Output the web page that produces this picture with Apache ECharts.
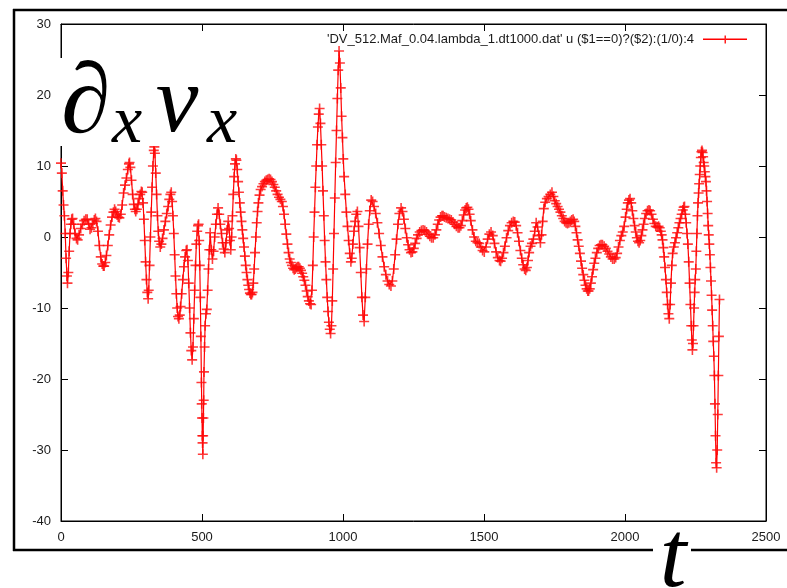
<!DOCTYPE html>
<html>
<head>
<meta charset="utf-8">
<script src="https://cdn.jsdelivr.net/npm/echarts/dist/echarts.min.js"></script>
<style>
html,body{margin:0;padding:0;background:#fff;}
#c{width:787px;height:588px;}
</style>
</head>
<body>
<div id="c"></div>
<script>
// ---- tick labels / texts ----
const xTicks = [0, 500, 1000, 1500, 2000, 2500];
const yTicks = [-40, -30, -20, -10, 0, 10, 20, 30];
const legendLabel = "'DV_512.Maf_0.04.lambda_1.dt1000.dat' u ($1==0)?($2):(1/0):4";
const xAxisName = 't';

// ---- data: [t, d_x v_x] ----
const seg0 = [[0,10.4],[3,9],[6,6.5],[9,4.5],[12,3],[15,0.5],[18,-3],[21,-5.5],[23,-6.5],[26,-5],[29,-2],[32,0.5],[35,1.8],[38,2.5],[41,2.6],[45,1.8],[50,0.5],[55,-0.2],[59,-0.4],[64,0.3],[70,1.2],[76,1.8],[82,2.3],[88,2.5],[93,2.5],[98,1.8],[103,1.1],[108,1.3],[113,1.9],[118,2.4],[122,2.6],[126,2.2],[131,0.8],[136,-1.2],[141,-2.8],[146,-3.8],[150,-4.1],[153,-4.1],[157,-3.6],[161,-2.6],[166,-1.2],[171,0.3],[176,1.7],[181,2.8],[186,3.5],[190,3.9],[194,3.6],[199,3.1],[203,2.8],[207,2.7],[212,3.2],[217,4.5],[222,6.2],[227,7.3],[232,8.3],[237,9.5],[241,10.3],[243,10.5],[246,9.8],[250,8],[254,6],[258,4.6],[262,3.9],[265,3.6],[269,3.9],[273,4.6],[277,5.4],[281,6],[285,6.4],[288,6.3],[291,4.8],[294,2.5],[297,-0.5],[300,-3.5],[303,-6],[306,-7.8],[309,-8.7],[311,-7.5],[314,-4],[317,0],[320,3.5],[323,7],[326,10],[329,12.2],[331,12.7],[333,11.8],[336,9],[339,6],[342,3],[345,0.8],[348,-0.6],[352,-1.4],[356,-1],[360,-0.2],[365,1],[370,2.2],[375,3.3],[380,4.3],[384,5.3],[388,6],[391,6.3],[394,5],[397,3],[400,0.5],[403,-2.5],[406,-5.5],[409,-8],[412,-10],[415,-11.2],[418,-11.5],[421,-11],[424,-9.8],[428,-8],[432,-6],[436,-4.2],[440,-2.8],[444,-1.9],[447,-1.8],[450,-3.3],[453,-6.5],[456,-10],[459,-13.5],[462,-16],[465,-17.3],[468,-15.5],[471,-11.5],[474,-7.5],[477,-4],[480,-1],[483,0.8],[486,1.6],[488,1.8],[490,-0.5],[492,-4],[494,-8.5],[496,-14],[498,-20.5]];
const seg1 = [[499,-23.5],[500,-25.5],[501,-28],[502,-29],[503,-30.6],[504,-28],[505,-25.5],[506,-23],[507,-19],[509,-15.5],[511,-12.5],[514,-10.8],[517,-10.2],[520,-7.5],[523,-4.5],[526,-1.8],[529,0.6],[533,-1.8],[537,-3.1],[541,-2],[545,0],[549,1.8],[553,3.2],[557,4.1],[561,3.2],[565,1.8],[569,0.5],[573,-0.8],[577,-1.7],[581,-2.2],[585,-0.8],[589,1],[593,2.2],[596,1.2],[599,-0.5],[602,-1.8],[605,0],[608,3],[611,6],[614,8.5],[617,10.3],[620,11],[622,10.8],[625,9.5],[628,7.8],[631,6.3],[634,4.8],[637,3.5],[640,2.2],[643,1],[646,-0.2],[649,-1.4],[652,-2.7],[655,-4],[658,-5],[661,-6],[664,-6.8],[667,-7.4],[670,-7.9],[673,-8.1],[676,-8.1],[679,-7.8],[682,-6.5],[685,-4.5],[688,-2.2],[691,0],[694,2],[697,3.6],[700,4.8],[704,5.9],[708,6.7],[713,7.1],[718,7.5],[723,7.8],[728,8],[733,8.1],[738,8.2],[743,8.1],[748,7.8],[753,7.4],[758,7],[763,6.5],[768,6],[773,5.6],[778,5.3],[783,5],[787,4.3],[791,3.2],[795,1.8],[799,0.4],[803,-1],[807,-2.2],[811,-3.1],[815,-3.6],[819,-4],[823,-4.4],[827,-4.6],[831,-4.5],[835,-4.3],[839,-4.2],[843,-4.2],[847,-4.4],[851,-4.7],[855,-5.1],[859,-5.6],[863,-6.1],[867,-6.8],[871,-7.6],[875,-8.4],[879,-9],[883,-9.4],[887,-9.5],[890,-7.5],[893,-4],[896,0],[899,3.5],[902,7],[905,10],[908,13],[911,15.5],[914,17.3],[917,18.1],[920,16],[923,13],[926,10],[929,6.5],[932,3],[935,-0.5],[938,-3.5],[941,-6],[944,-8.5],[947,-10.5],[950,-12],[953,-13],[956,-13.6],[959,-12.5],[962,-9],[965,-4.5],[968,0.5],[971,5.5],[974,10.5],[977,15],[980,19.5],[983,23.5],[986,26.2],[989,24.5],[992,21],[995,17],[998,14]];
const seg2 = [[1001,11],[1004,8.5],[1008,6],[1012,3.5],[1016,1.5],[1020,-0.5],[1024,-2.3],[1028,-3.5],[1031,-3],[1035,-1],[1039,0.8],[1043,2.2],[1047,3.2],[1051,3.6],[1055,1.5],[1059,-1.5],[1063,-5],[1067,-8.5],[1071,-11],[1075,-11.9],[1079,-8.5],[1083,-4.5],[1087,-1],[1091,1.8],[1095,3.7],[1100,5.2],[1105,5],[1110,4.3],[1116,3.3],[1122,2],[1128,0.5],[1134,-1.2],[1140,-2.8],[1146,-4.2],[1152,-5.3],[1158,-6.2],[1164,-6.7],[1170,-6.9],[1175,-6.2],[1180,-4.5],[1185,-2.5],[1190,-0.3],[1195,1.8],[1200,3.3],[1206,4.1],[1211,3.6],[1216,2.5],[1221,1.2],[1226,-0.1],[1231,-1.1],[1236,-1.8],[1241,-2.2],[1246,-2.1],[1251,-1.6],[1256,-0.9],[1261,-0.2],[1266,0.3],[1272,0.7],[1278,0.9],[1284,1],[1290,0.9],[1296,0.7],[1302,0.4],[1308,0.1],[1314,-0.1],[1320,-0.1],[1326,0.3],[1331,1],[1336,1.8],[1341,2.4],[1346,2.8],[1351,3],[1355,3],[1360,2.8],[1366,2.7],[1372,2.6],[1378,2.5],[1384,2.4],[1390,2.1],[1396,1.8],[1402,1.5],[1408,1.3],[1413,1.3],[1418,1.6],[1423,2.3],[1428,3.1],[1433,3.8],[1437,4.1],[1441,4.2],[1445,3.9],[1449,3.2],[1453,2.3],[1459,1],[1465,0],[1471,-0.6],[1477,-0.8],[1483,-0.9],[1489,-1.4],[1495,-1.9],[1501,-2.1]];
const seg3 = [[1507,-1.4],[1513,-0.3],[1519,0.4],[1525,0.7],[1531,0.2],[1537,-0.9],[1543,-2.1],[1549,-2.9],[1555,-3.3],[1559,-3.4],[1564,-3],[1569,-2.2],[1574,-1.3],[1580,-0.1],[1586,0.9],[1592,1.6],[1598,2],[1604,2.2],[1609,2.1],[1614,1.6],[1619,0.6],[1624,-0.6],[1629,-1.9],[1634,-3],[1639,-3.9],[1644,-4.5],[1648,-4.7],[1652,-4.3],[1656,-3.3],[1660,-2.2],[1665,-1.3],[1670,-0.9],[1675,-0.3],[1680,0.8],[1685,2],[1690,1.4],[1695,0.2],[1700,-0.8],[1704,0.3],[1708,2.2],[1712,4],[1717,4.9],[1723,5.4],[1729,5.7],[1735,6],[1741,6.3],[1746,5.7],[1751,5.1],[1756,4.7],[1761,4.3],[1766,3.9],[1771,3.5],[1776,3],[1781,2.6],[1786,2.2],[1791,2],[1796,1.9],[1801,2],[1806,2.2],[1811,2.4],[1816,2.5],[1820,2.2],[1824,1.5],[1828,0.6],[1832,-0.4],[1836,-1.3],[1840,-2.3],[1844,-3.4],[1848,-4.4],[1852,-5.3],[1856,-6.1],[1860,-6.8],[1864,-7.3],[1868,-7.6],[1871,-7.6],[1875,-7.3],[1879,-6.5],[1883,-5.6],[1887,-4.6],[1891,-3.7],[1895,-3],[1900,-2.2],[1905,-1.6],[1910,-1.2],[1915,-1.1],[1920,-1.1],[1926,-1.3],[1932,-1.6],[1938,-2],[1944,-2.4],[1950,-2.8],[1956,-3.1],[1962,-3.1],[1967,-2.9],[1972,-2.3],[1977,-1.4],[1982,-0.5],[1987,0.2],[1992,0.7],[1997,1.5]];
const seg4 = [[2002,2.8],[2006,3.9],[2010,4.8],[2014,5.2],[2018,5.4],[2022,4.8],[2026,3.7],[2030,2.6],[2034,1.6],[2038,0.7],[2042,-0.1],[2046,-0.6],[2050,-0.8],[2054,-0.5],[2058,0.2],[2062,1],[2066,1.8],[2070,2.6],[2075,3.3],[2080,3.7],[2085,3.8],[2089,3.7],[2094,3.2],[2099,2.5],[2104,1.9],[2109,1.5],[2114,1.4],[2119,1.5],[2123,1.3],[2127,0.8],[2130,0.3],[2133,-0.4],[2136,-1.5],[2139,-2.8],[2142,-4.3],[2145,-6],[2148,-7.8],[2151,-9.5],[2154,-10.8],[2157,-11.5],[2160,-9.5],[2163,-6.5],[2166,-4],[2169,-2.3],[2173,-1.4],[2177,-0.8],[2181,-0.1],[2185,0.6],[2189,1.3],[2193,2],[2197,2.6],[2201,3.2],[2205,3.8],[2208,4.2],[2211,4.3],[2214,3.2],[2217,2],[2220,0.5],[2223,-1],[2226,-3.5],[2229,-6.5],[2232,-9.5],[2235,-12.5],[2237,-14.5],[2239,-15.9],[2241,-15],[2243,-12.5],[2245,-10],[2247,-7.8],[2249,-6],[2251,-4.5],[2253,-2],[2255,0.5],[2257,3],[2259,4.8],[2261,6.2],[2263,7.5],[2265,8.8],[2267,10],[2269,11.2],[2271,12],[2273,12.2],[2275,11.9],[2277,11.3],[2279,10.5],[2281,10],[2283,9.2],[2285,8.5],[2287,7.8],[2289,6.5],[2291,5],[2293,3.3],[2295,1.6],[2297,0.3],[2299,-1],[2301,-2.5],[2303,-4.3],[2305,-6.2],[2307,-8.2],[2309,-10.3],[2311,-12.5],[2313,-14.7],[2315,-16.8],[2317,-19.5],[2319,-23.5],[2321,-28],[2323,-31.8],[2325,-32.5],[2327,-30],[2329,-25],[2331,-19.5],[2333,-14],[2335,-8.8]];

const dxvxData = seg0.concat(seg1, seg2, seg3, seg4);

// "+" marker, arm thickness ~1.6px at symbolSize 10
const plusPath = 'path://M4.2,0h1.6v4.2h4.2v1.6h-4.2v4.2h-1.6v-4.2h-4.2v-1.6h4.2z';
const labelFont = '"Liberation Sans", Arial, sans-serif';
const mathFont = '"Liberation Serif", "DejaVu Serif", serif';

const chart = echarts.init(document.getElementById('c'), null, {renderer: 'canvas'});

function axisCommon(showLabel) {
  return {
    axisLine: {show: true, onZero: false, lineStyle: {color: '#000', width: 1}},
    axisTick: {show: true, inside: true, length: 7, lineStyle: {color: '#000', width: 1}},
    axisLabel: {show: showLabel, color: '#1a1a1a', fontSize: 13, fontFamily: labelFont, margin: 10,
                showMinLabel: true, showMaxLabel: true, formatter: function (v) { return String(v); }},
    splitLine: {show: false}
  };
}

const xMin = xTicks[0], xMax = xTicks[xTicks.length - 1], xStep = xTicks[1] - xTicks[0];
const yMin = yTicks[0], yMax = yTicks[yTicks.length - 1], yStep = yTicks[1] - yTicks[0];

const option = {
  animation: false,
  backgroundColor: '#fff',
  grid: {left: 61, right: 21, top: 24, bottom: 67, show: true, borderColor: '#000', borderWidth: 1},
  xAxis: [
    Object.assign({type: 'value', min: xMin, max: xMax, interval: xStep, position: 'bottom'}, axisCommon(true)),
    Object.assign({type: 'value', min: xMin, max: xMax, interval: xStep, position: 'top'}, axisCommon(false))
  ],
  yAxis: [
    Object.assign({type: 'value', min: yMin, max: yMax, interval: yStep, position: 'left'}, axisCommon(true)),
    Object.assign({type: 'value', min: yMin, max: yMax, interval: yStep, position: 'right'}, axisCommon(false))
  ],
  series: [{
    name: legendLabel,
    type: 'line',
    xAxisIndex: 0,
    yAxisIndex: 0,
    data: dxvxData,
    showSymbol: false,
    clip: true,
    lineStyle: {color: '#ff0000', width: 1.2},
    emphasis: {disabled: true},
    z: 3
  }, {
    name: legendLabel,
    type: 'scatter',
    xAxisIndex: 0,
    yAxisIndex: 0,
    data: dxvxData,
    symbol: plusPath,
    symbolSize: 10,
    clip: true,
    large: false,
    progressive: 0,
    itemStyle: {color: 'rgba(255,10,10,0.8)', borderWidth: 0, opacity: 1},
    emphasis: {disabled: true},
    z: 4
  }],
  graphic: [
    // outer frame
    {type: 'line', z: 50, shape: {x1: 14, y1: 9, x2: 14, y2: 551}, style: {stroke: '#000', lineWidth: 2.5}},
    {type: 'line', z: 50, shape: {x1: 13, y1: 10, x2: 787, y2: 10}, style: {stroke: '#000', lineWidth: 2.5}},
    {type: 'line', z: 50, shape: {x1: 13, y1: 550, x2: 787, y2: 550}, style: {stroke: '#000', lineWidth: 2.5}},
    // legend
    {type: 'text', z: 60, style: {text: legendLabel, x: 694, y: 39, align: 'right', verticalAlign: 'middle',
      fontSize: 13, fontFamily: labelFont, fill: '#1a1a1a'}},
    {type: 'rect', z: 60, shape: {x: 703, y: 38.5, width: 44, height: 1.5}, style: {fill: '#ff0000', stroke: null}},
    {type: 'rect', z: 60, shape: {x: 724.5, y: 35.5, width: 1.5, height: 8}, style: {fill: '#ff2020', stroke: null}},
    // big math label
    {type: 'rect', z: 80, shape: {x: 58, y: 58, width: 185, height: 88}, style: {fill: '#fff'}},
    {type: 'text', z: 81, style: {text: '\u2202', x: 86, y: 106, align: 'center', verticalAlign: 'middle',
      fontSize: 100, fontStyle: 'italic', fontFamily: mathFont, fill: '#000'}},
    {type: 'text', z: 81, style: {text: 'x', x: 127, y: 124, align: 'center', verticalAlign: 'middle',
      fontSize: 68, fontStyle: 'italic', fontFamily: mathFont, fill: '#000'}},
    {type: 'text', z: 81, style: {text: 'v', x: 177, y: 106, align: 'center', verticalAlign: 'middle',
      fontSize: 96, fontStyle: 'italic', fontFamily: mathFont, fill: '#000'}},
    {type: 'text', z: 81, style: {text: 'x', x: 222, y: 124, align: 'center', verticalAlign: 'middle',
      fontSize: 68, fontStyle: 'italic', fontFamily: mathFont, fill: '#000'}},
    // axis name t
    {type: 'rect', z: 80, shape: {x: 653, y: 523, width: 38, height: 65}, style: {fill: '#fff'}},
    {type: 'text', z: 81, style: {text: xAxisName, x: 673, y: 561, align: 'center', verticalAlign: 'middle',
      fontSize: 96, fontStyle: 'italic', fontFamily: mathFont, fill: '#000'}}
  ]
};
chart.setOption(option);
</script>
</body>
</html>
